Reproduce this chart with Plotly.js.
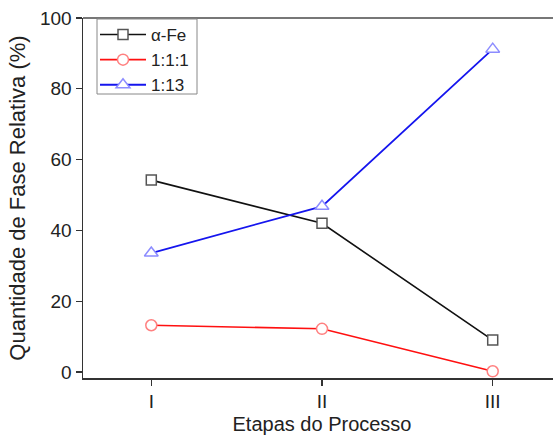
<!DOCTYPE html>
<html>
<head>
<meta charset="utf-8">
<script src="https://cdn.plot.ly/plotly-3.0.1.min.js"></script>
<style>html,body{margin:0;padding:0;background:#fff;overflow:hidden;}#chart{width:561px;height:435px;}</style>
</head>
<body>
<div id="chart"></div>
<script>
const stages = ["I", "II", "III"];
const alphaFe = [54.2, 42.0, 9.0];
const phase111 = [13.2, 12.2, 0.2];
const phase113 = [33.6, 46.8, 91.2];
const seriesNames = ["α-Fe", "1:1:1", "1:13"];
const yTicks = [0, 20, 40, 60, 80, 100];
const yMinorTicks = [10, 30, 50, 70, 90];

const traces = [
  {x: stages, y: alphaFe, name: seriesNames[0], type: "scatter", mode: "lines+markers",
   line: {color: "#111", width: 1.6},
   marker: {symbol: "square", size: 10, color: "#fff", line: {color: "#555", width: 1.5}}},
  {x: stages, y: phase111, name: seriesNames[1], type: "scatter", mode: "lines+markers",
   line: {color: "#ff1010", width: 1.6},
   marker: {symbol: "circle", size: 11, color: "#fff", line: {color: "#ff8080", width: 1.5}}},
  {x: stages, y: phase113, name: seriesNames[2], type: "scatter", mode: "lines+markers",
   line: {color: "#1515ee", width: 1.8},
   marker: {symbol: "triangle-up", size: 12, color: "#fff", line: {color: "#8c8cff", width: 1.5}}}
];

const font = {family: "Liberation Sans, Arial, sans-serif", color: "#222"};
const figW = 561;
const plotH = 360, plotW = figW - 83, plotL = 83, plotT = 18;
const px2x = p => (p - plotL) / plotW;
const px2y = p => (plotT + plotH - p) / plotH;
const yRange = [-1.7, 100];

const layout = {
  width: figW, height: 435,
  margin: {l: plotL, r: 0, t: plotT, b: 57, pad: 0},
  paper_bgcolor: "#fff", plot_bgcolor: "#fff",
  font: Object.assign({size: 18}, font),
  showlegend: true,
  legend: {x: px2x(95), y: px2y(17), xanchor: "left", yanchor: "top",
    bgcolor: "rgba(0,0,0,0)", borderwidth: 0,
    font: Object.assign({size: 17}, font), itemwidth: 46, tracegroupgap: 0},
  xaxis: {type: "category", range: [-0.4, 2.4],
    showline: true, linecolor: "#333", linewidth: 1.5, mirror: false,
    ticks: "outside", ticklen: 6, tickwidth: 1.2, tickcolor: "#333",
    showgrid: false, zeroline: false,
    tickfont: Object.assign({size: 19}, font),
    title: {text: "Etapas do Processo", font: Object.assign({size: 20}, font), standoff: 11}},
  yaxis: {range: yRange, tickvals: yTicks, ticktext: yTicks.map(String),
    showline: true, linecolor: "#333", linewidth: 1.5, mirror: false,
    ticks: "outside", ticklen: 6, tickwidth: 1.2, tickcolor: "#333",
    showgrid: false, zeroline: false,
    tickfont: Object.assign({size: 19}, font),
    title: {text: "Quantidade de Fase Relativa (%)", font: Object.assign({size: 22}, font), standoff: 8}},
  yaxis2: {overlaying: "y", side: "left", range: yRange, tickvals: yMinorTicks,
    showticklabels: false, showline: false, showgrid: false, zeroline: false,
    ticks: "outside", ticklen: 3, tickwidth: 1.2, tickcolor: "#333"},
  shapes: [
    {type: "line", xref: "paper", yref: "paper", x0: 0, x1: 1, y0: 1, y1: 1,
     line: {color: "#777", width: 2}},
    {type: "rect", xref: "paper", yref: "paper", layer: "above",
     x0: px2x(97), x1: px2x(197), y0: px2y(94), y1: px2y(19),
     fillcolor: "#fff", line: {color: "#888", width: 1}}
  ]
};

Plotly.newPlot("chart", traces, layout, {displayModeBar: false, staticPlot: true});
</script>
</body>
</html>
